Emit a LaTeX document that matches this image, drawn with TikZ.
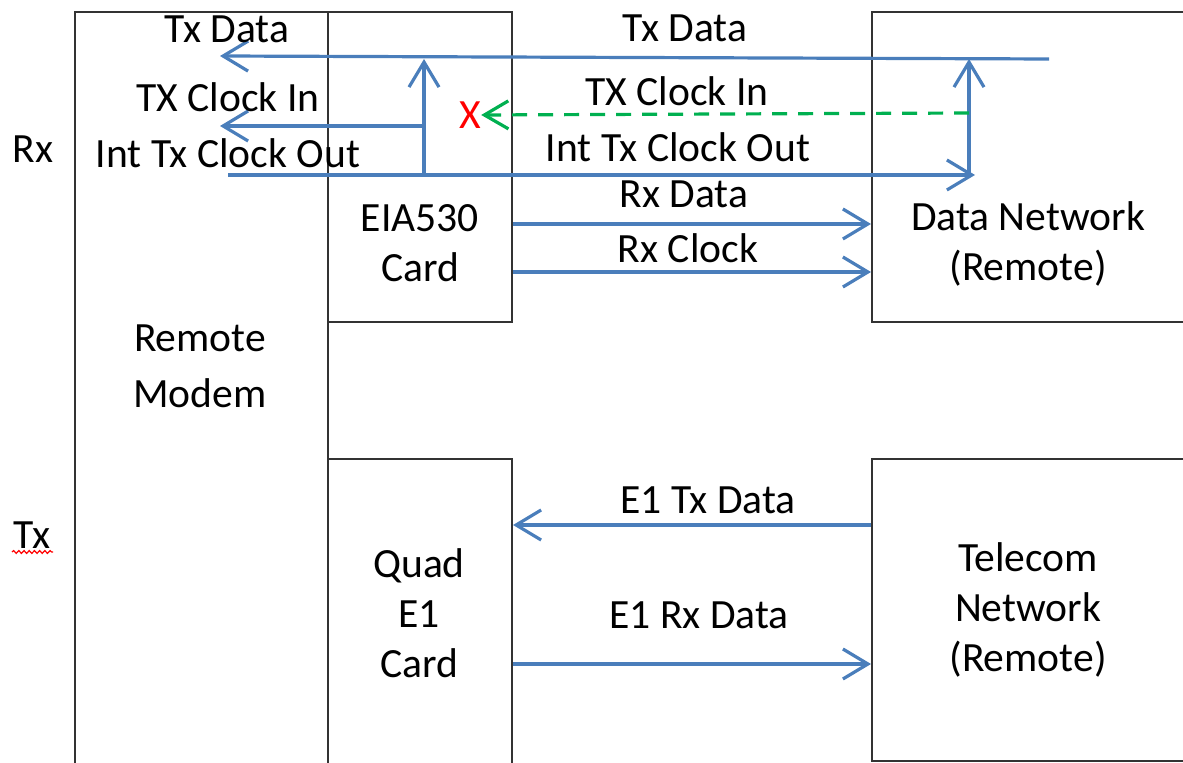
\documentclass[tikz,border=0pt]{standalone}
\usepackage{fontspec}
\setmainfont{Carlito}
\usetikzlibrary{arrows.meta,decorations.pathmorphing}
\definecolor{lineblue}{HTML}{4A7EBB}
\definecolor{dashgreen}{HTML}{00B050}

\begin{document}
\begin{tikzpicture}[x=0.5pt, y=-0.5pt,
		box/.style={draw=black!80, line width=1pt, inner sep=0pt},
		lbl/.style={font=\fontsize{20.8}{25}\selectfont, inner sep=0pt, align=center},
		sig/.style={draw=lineblue, line width=1.6pt, -{Straight Barb[length=12.5pt, width=15pt]}},
		gsig/.style={draw=dashgreen, line width=1.6pt, dash pattern=on 7.5pt off 5.5pt, -{Straight Barb[length=12pt, width=14pt]}}
		]
		
		\useasboundingbox (0,0) rectangle (1183,763);
		\clip (0,0) rectangle (1183,763);
		
		% Boxes
		\node[box, minimum width=126.5pt, minimum height=404pt] (modem) at (201.5,416) {};
		\node[box, minimum width=92pt, minimum height=155pt] (eia) at (420,167) {};
		\node[box, minimum width=184pt, minimum height=155pt] (dnet) at (1056,167) {};
		\node[box, minimum width=92pt, minimum height=180.5pt] (quad) at (420,639.5) {};
		\node[box, minimum width=184pt, minimum height=151pt] (tnet) at (1056,610) {};
		
		% Box texts
		\node[lbl, font=\fontsize{20.8}{28}\selectfont] (modemtxt) at (200,366) {Remote\\Modem};
		\node[lbl] (eiatxt) at (420,243) {EIA530\\Card};
		\node[lbl] (dnettxt) at (1028,244) {Data Network\\(Remote)};
		\node[lbl] (quadtxt) at (419,613) {Quad\\E1\\Card};
		\node[lbl] (tnettxt) at (1028,610) {Telecom\\Network\\(Remote)};
		
		% Side texts
		\node[lbl] (rxside) at (33,149) {Rx};
		\node[lbl] (txside) at (32,535) {Tx};
		\draw[red, line width=0.6pt, decorate, decoration={snake, amplitude=0.7pt, segment length=2.6pt}]
			(12,552) -- (53,552);
		
		% Clock and data points
		\coordinate (txsrc) at (1049,59);
		\coordinate (txend) at (220,56);
		\coordinate (lsplit) at (424,175);
		\coordinate (ltop) at (424,59);
		\coordinate (lclk) at (424,126);
		\coordinate (clkend) at (220,126);
		\coordinate (intsrc) at (228,175);
		\coordinate (intend) at (975,175);
		\coordinate (rsplit) at (969,175);
		\coordinate (rtop) at (969,59);
		\coordinate (gsrc) at (969,113);
		\coordinate (rxdata) at (0,224);
		\coordinate (rxclock) at (0,272);
		\coordinate (etx) at (0,525);
		\coordinate (erx) at (0,664);
		
		% Tx path
		\draw[sig] (txsrc) -- (txend);
		\draw[sig] (lsplit) -- (ltop);
		\draw[sig] (lclk) -- (clkend);
		\draw[sig] (intsrc) -- (intend);
		\draw[sig] (rsplit) -- (rtop);
		
		% Broken clock
		\node[lbl, text=red] (cut) at (470,115) {X};
		\draw[gsig] (gsrc) -- (cut.east);
		
		% Rx path and E1
		\draw[sig] (eia.east |- rxdata) -- (dnet.west |- rxdata);
		\draw[sig] (eia.east |- rxclock) -- (dnet.west |- rxclock);
		\draw[sig] (tnet.west |- etx) -- (quad.east |- etx);
		\draw[sig] (quad.east |- erx) -- (tnet.west |- erx);
		
		% Signal labels
		\node[lbl] (txdtop) at (685,28) {Tx Data};
		\node[lbl] (clkintop) at (677,91) {TX Clock In};
		\node[lbl] (clkouttop) at (678,147) {Int Tx Clock Out};
		\node[lbl] (txdleft) at (227,29) {Tx Data};
		\node[lbl] (clkinleft) at (228,97) {TX Clock In};
		\node[lbl] (clkoutleft) at (228,153) {Int Tx Clock Out};
		\node[lbl] (rxdlbl) at (684,194) {Rx Data};
		\node[lbl] (rxclbl) at (688,248) {Rx Clock};
		\node[lbl] (etxlbl) at (708,500) {E1 Tx Data};
		\node[lbl] (erxlbl) at (699,615) {E1 Rx Data};
		
	\end{tikzpicture}
\end{document}
